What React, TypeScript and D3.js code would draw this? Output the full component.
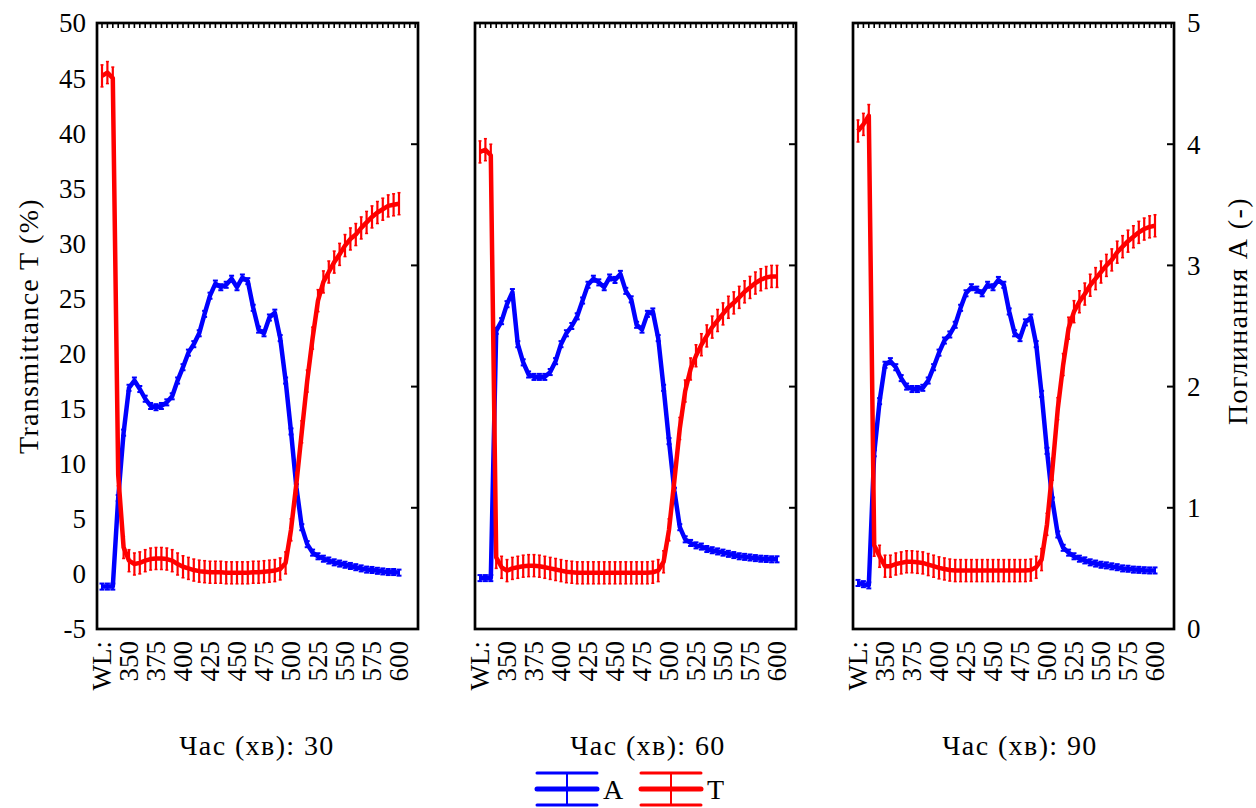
import React, { useRef, useEffect } from "react";
import * as d3 from "d3";

// wavelength categories (nm)
const wavelengths = [
  325, 330, 335, 340, 345, 350, 355, 360, 365, 370, 375, 380, 385, 390, 395,
  400, 405, 410, 415, 420, 425, 430, 435, 440, 445, 450, 455, 460, 465, 470,
  475, 480, 485, 490, 495, 500, 505, 510, 515, 520, 525, 530, 535, 540, 545,
  550, 555, 560, 565, 570, 575, 580, 585, 590, 595, 600,
];
const xTickValues = [325, 350, 375, 400, 425, 450, 475, 500, 525, 550, 575, 600];
const xTickLabels = ["WL:", "350", "375", "400", "425", "450", "475", "500", "525", "550", "575", "600"];
const tTicks = [-5, 0, 5, 10, 15, 20, 25, 30, 35, 40, 45, 50];
const aTicks = [0, 1, 2, 3, 4, 5];
const panelTitles = ["Час (хв): 30", "Час (хв): 60", "Час (хв): 90"];

// absorbance A (-)
const a30 = [
  0.35, 0.35, 0.35, 1.08, 1.62, 1.99, 2.05, 1.98, 1.9, 1.84,
  1.83, 1.84, 1.87, 1.92, 2.05, 2.16, 2.28, 2.35, 2.44, 2.6,
  2.75, 2.85, 2.82, 2.84, 2.89, 2.82, 2.9, 2.87, 2.65, 2.47,
  2.44, 2.57, 2.61, 2.4, 2.05, 1.63, 1.17, 0.84, 0.7, 0.63,
  0.6, 0.58, 0.565, 0.55, 0.54, 0.53, 0.52, 0.51, 0.5, 0.49,
  0.487, 0.48, 0.475, 0.47, 0.47, 0.465,
];
const a60 = [
  0.42, 0.42, 0.42, 2.46, 2.54, 2.68, 2.78, 2.35, 2.2, 2.1,
  2.08, 2.08, 2.08, 2.12, 2.21, 2.35, 2.44, 2.5, 2.58, 2.71,
  2.84, 2.89, 2.86, 2.82, 2.9, 2.88, 2.93, 2.79, 2.72, 2.51,
  2.47, 2.6, 2.62, 2.4, 1.99, 1.55, 1.14, 0.84, 0.74, 0.71,
  0.69, 0.68, 0.66, 0.65, 0.64, 0.63, 0.62, 0.61, 0.6, 0.595,
  0.59, 0.585, 0.58, 0.578, 0.575, 0.575,
];
const a90 = [
  0.38, 0.37, 0.36, 1.45, 1.88, 2.18, 2.21, 2.16, 2.07, 2.0,
  1.98, 1.98, 1.99, 2.05, 2.16, 2.28, 2.38, 2.43, 2.51, 2.65,
  2.77, 2.82, 2.8, 2.77, 2.84, 2.82, 2.88, 2.84, 2.62, 2.44,
  2.4, 2.53, 2.57, 2.35, 1.94, 1.47, 1.06, 0.78, 0.67, 0.63,
  0.6, 0.58, 0.566, 0.55, 0.54, 0.53, 0.525, 0.517, 0.51, 0.5,
  0.497, 0.49, 0.488, 0.485, 0.483, 0.483,
];

// transmittance T (%)
const t30 = [
  45.2, 45.5, 45.0, 9.0, 2.4, 1.2, 0.9, 1.0, 1.2, 1.35,
  1.4, 1.4, 1.35, 1.2, 0.9, 0.65, 0.5, 0.35, 0.25, 0.2,
  0.15, 0.15, 0.15, 0.1, 0.1, 0.1, 0.1, 0.1, 0.15, 0.15,
  0.2, 0.25, 0.3, 0.45, 1.0, 4.0, 8.2, 12.9, 17.5, 21.4,
  24.8, 26.5, 27.4, 28.3, 29.0, 29.8, 30.4, 30.8, 31.4, 31.9,
  32.4, 32.8, 33.1, 33.4, 33.5, 33.6,
];
const t60 = [
  38.3, 38.5, 38.0, 1.5, 0.6, 0.3, 0.5, 0.6, 0.7, 0.75,
  0.75, 0.7, 0.6, 0.5, 0.4, 0.3, 0.2, 0.15, 0.1, 0.1,
  0.1, 0.1, 0.1, 0.1, 0.1, 0.1, 0.1, 0.1, 0.1, 0.1,
  0.1, 0.1, 0.15, 0.3, 1.1, 4.0, 8.5, 13.2, 16.6, 18.6,
  19.8, 20.8, 21.6, 22.4, 23.0, 23.6, 24.2, 24.6, 25.1, 25.6,
  26.0, 26.4, 26.7, 26.9, 27.0, 27.0,
];
const t90 = [
  40.2, 40.8, 41.6, 2.6, 1.6, 0.7, 0.7, 0.9, 1.0, 1.1,
  1.1, 1.05, 1.0, 0.85, 0.7, 0.55, 0.45, 0.35, 0.3, 0.3,
  0.3, 0.3, 0.3, 0.3, 0.3, 0.3, 0.3, 0.3, 0.3, 0.3,
  0.3, 0.3, 0.35, 0.6, 1.3, 4.5, 9.5, 15.0, 19.0, 22.3,
  23.8, 24.7, 25.4, 26.2, 26.8, 27.4, 28.0, 28.5, 29.2, 29.7,
  30.2, 30.6, 31.0, 31.3, 31.5, 31.6,
];

// error bar half-widths per panel
const tErr = [1.0, 1.0, 1.0];
const aErr = [0.025, 0.025, 0.025];

const aSeries = [a30, a60, a90];
const tSeries = [t30, t60, t90];

const BLUE = "#0000ff";
const RED = "#ff0000";
const FONT = "'Liberation Serif', 'Times New Roman', serif";

const App = () => {
  const ref = useRef(null);

  useEffect(() => {
    const svg = d3.select(ref.current);
    svg.selectAll("*").remove();

    const W = 1256;
    const H = 808;
    svg.attr("width", W).attr("height", H);

    const top = 23;
    const bottom = 629;
    const panelW = 321;
    const lefts = [97, 475, 853];
    const titleX = [257, 648, 1020];

    const yT = d3.scaleLinear().domain([-5, 50]).range([bottom, top]);
    const yA = d3.scaleLinear().domain([0, 5]).range([bottom, top]);

    lefts.forEach((left, p) => {
      const g = svg.append("g");
      const x = d3.scaleLinear().domain([325, 600]).range([left + 5, left + 302]);

      // top minor ticks
      g.selectAll(".topTick")
        .data(d3.range(325, 616, 5))
        .enter()
        .append("line")
        .attr("x1", (d) => x(d))
        .attr("x2", (d) => x(d))
        .attr("y1", top)
        .attr("y2", top + 5)
        .attr("stroke", "#000")
        .attr("stroke-width", 1.6);

      // right-side A ticks (inward)
      g.selectAll(".aTick")
        .data([1, 2, 3, 4])
        .enter()
        .append("line")
        .attr("x1", left + panelW - 7)
        .attr("x2", left + panelW)
        .attr("y1", (d) => yA(d))
        .attr("y2", (d) => yA(d))
        .attr("stroke", "#000")
        .attr("stroke-width", 2);

      const aData = aSeries[p];
      const tData = tSeries[p];

      // A series
      const lineA = d3
        .line()
        .x((d, i) => x(wavelengths[i]))
        .y((d) => yA(d));
      g.append("path")
        .datum(aData)
        .attr("fill", "none")
        .attr("stroke", BLUE)
        .attr("stroke-width", 4.5)
        .attr("stroke-linejoin", "round")
        .attr("d", lineA);
      const ae = aErr[p];
      aData.forEach((v, i) => {
        const cx = x(wavelengths[i]);
        g.append("line")
          .attr("x1", cx).attr("x2", cx)
          .attr("y1", yA(v - ae)).attr("y2", yA(v + ae))
          .attr("stroke", BLUE).attr("stroke-width", 2);
        [v - ae, v + ae].forEach((e) => {
          g.append("line")
            .attr("x1", cx - 2.5).attr("x2", cx + 2.5)
            .attr("y1", yA(e)).attr("y2", yA(e))
            .attr("stroke", BLUE).attr("stroke-width", 2);
        });
      });

      // T series
      const lineT = d3
        .line()
        .x((d, i) => x(wavelengths[i]))
        .y((d) => yT(d));
      g.append("path")
        .datum(tData)
        .attr("fill", "none")
        .attr("stroke", RED)
        .attr("stroke-width", 4.5)
        .attr("stroke-linejoin", "round")
        .attr("d", lineT);
      const te = tErr[p];
      tData.forEach((v, i) => {
        const cx = x(wavelengths[i]);
        g.append("line")
          .attr("x1", cx).attr("x2", cx)
          .attr("y1", yT(v - te)).attr("y2", yT(v + te))
          .attr("stroke", RED).attr("stroke-width", 2.2);
        [v - te, v + te].forEach((e) => {
          g.append("line")
            .attr("x1", cx - 1.5).attr("x2", cx + 1.5)
            .attr("y1", yT(e)).attr("y2", yT(e))
            .attr("stroke", RED).attr("stroke-width", 1.5);
        });
      });

      // frame
      g.append("rect")
        .attr("x", left)
        .attr("y", top)
        .attr("width", panelW)
        .attr("height", bottom - top)
        .attr("fill", "none")
        .attr("stroke", "#000")
        .attr("stroke-width", 2.7);

      // x labels (rotated)
      g.selectAll(".xl")
        .data(xTickValues)
        .enter()
        .append("text")
        .attr("transform", (d) => `translate(${x(d)},${bottom + 12}) rotate(-90)`)
        .attr("text-anchor", "end")
        .attr("dy", "0.35em")
        .attr("font-family", FONT)
        .attr("font-size", 27)
        .text((d, i) => xTickLabels[i]);

      // panel title
      g.append("text")
        .attr("x", titleX[p])
        .attr("y", 755)
        .attr("text-anchor", "middle")
        .attr("font-family", FONT)
        .attr("font-size", 28)
        .attr("letter-spacing", 1.4)
        .text(panelTitles[p]);
    });

    // left T axis labels
    svg.selectAll(".tl")
      .data(tTicks)
      .enter()
      .append("text")
      .attr("x", 86)
      .attr("y", (d) => yT(d))
      .attr("dy", "0.35em")
      .attr("text-anchor", "end")
      .attr("font-family", FONT)
      .attr("font-size", 27)
      .text((d) => d);

    // right A axis labels
    svg.selectAll(".al")
      .data(aTicks)
      .enter()
      .append("text")
      .attr("x", 1187)
      .attr("y", (d) => yA(d))
      .attr("dy", "0.35em")
      .attr("text-anchor", "start")
      .attr("font-family", FONT)
      .attr("font-size", 27)
      .text((d) => d);

    svg.append("text")
      .attr("transform", `translate(38,${(top + bottom) / 2}) rotate(-90)`)
      .attr("text-anchor", "middle")
      .attr("font-family", FONT)
      .attr("font-size", 28)
      .attr("letter-spacing", 1.3)
      .text("Transmittance T (%)");

    svg.append("text")
      .attr("transform", `translate(1247,${(top + bottom) / 2 - 15}) rotate(-90)`)
      .attr("text-anchor", "middle")
      .attr("font-family", FONT)
      .attr("font-size", 28)
      .attr("letter-spacing", 1.4)
      .text("Поглинання А (-)");

    // legend
    const legend = [
      { label: "A", color: BLUE, x0: 537 },
      { label: "T", color: RED, x0: 641 },
    ];
    legend.forEach((l) => {
      const lg = svg.append("g");
      const cy = 789;
      lg.append("line").attr("x1", l.x0).attr("x2", l.x0 + 60).attr("y1", cy).attr("y2", cy)
        .attr("stroke", l.color).attr("stroke-width", 5).attr("stroke-linecap", "round");
      [cy - 16, cy + 16].forEach((yy) => {
        lg.append("line").attr("x1", l.x0).attr("x2", l.x0 + 60).attr("y1", yy).attr("y2", yy)
          .attr("stroke", l.color).attr("stroke-width", 3).attr("stroke-linecap", "round");
      });
      lg.append("line").attr("x1", l.x0 + 30).attr("x2", l.x0 + 30).attr("y1", cy - 16).attr("y2", cy + 16)
        .attr("stroke", l.color).attr("stroke-width", 2);
      lg.append("text")
        .attr("x", l.x0 + 66)
        .attr("y", cy + 10)
        .attr("font-family", FONT)
        .attr("font-size", 28)
        .text(l.label);
    });
  }, []);

  return (
    <svg
      ref={ref}
      style={{ position: "absolute", left: 0, top: 0, display: "block", background: "#fff" }}
    />
  );
};

export default App;
